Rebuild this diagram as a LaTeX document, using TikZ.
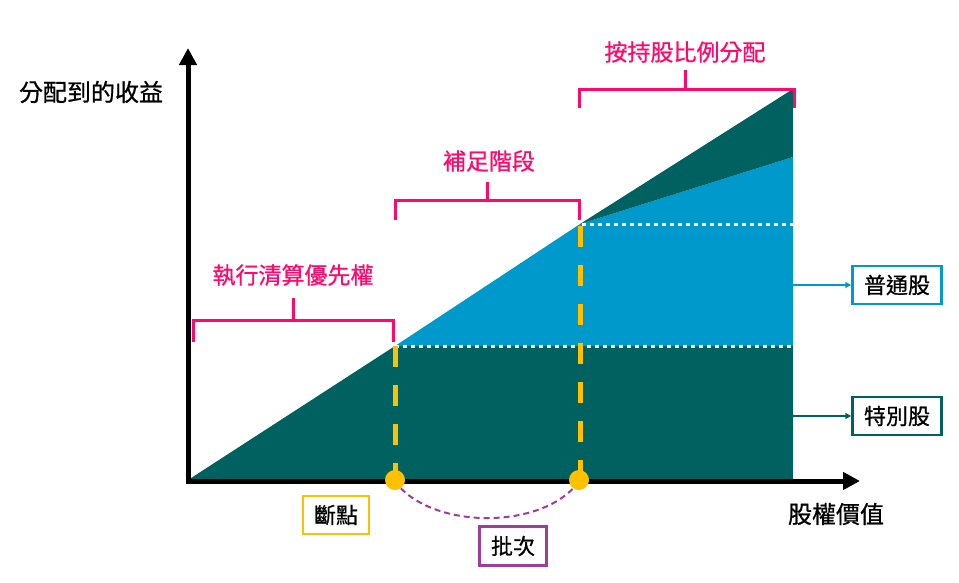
\documentclass[tikz,border=0pt]{standalone}
\usepackage{fontspec}
\setmainfont{Noto Sans CJK TC}[FakeBold=0.8]
\usetikzlibrary{arrows.meta}
\definecolor{dkgreen}{HTML}{006260}
\definecolor{cblue}{HTML}{0099CC}
\definecolor{cpink}{HTML}{FF0A6C}
\definecolor{cyellow}{HTML}{FFC000}
\definecolor{cpurple}{HTML}{A03C9E}
\begin{document}
\begin{tikzpicture}[x=1pt,y=-1pt,
  axis/.style={line width=5pt, line join=miter,
    {Triangle[length=17pt,width=17pt]}-{Triangle[length=17pt,width=17pt]}},
  brk/.style={draw=cpink, line width=3pt},
  brktext/.style={text=cpink, font=\fontsize{23}{26}\selectfont, inner sep=0pt},
  axtext/.style={text=black, font=\fontsize{24}{28}\selectfont, inner sep=0pt},
  lbl/.style={draw, line width=2.5pt, fill=white, minimum width=89pt, minimum height=38pt,
    inner sep=0pt, font=\fontsize{22}{26}\selectfont},
  wdot/.style={draw=white, line width=3pt, dash pattern=on 4pt off 4pt},
  ydash/.style={draw=cyellow, line width=5pt, dash pattern=on 21pt off 18pt},
  bpt/.style={circle, fill=cyellow, minimum size=20pt, inner sep=0pt},
  larrow/.style={line width=1.6pt, -{Triangle[length=6pt,width=6pt]}},
  arcst/.style={draw=cpurple, line width=2pt, dash pattern=on 6pt off 4pt}
]
\useasboundingbox (0,0) rectangle (959,582);
% areas
\fill[dkgreen] (188,480) -- (395,346) -- (793,346) -- (793,480) -- cycle;
\fill[cblue] (395,346) -- (580,224) -- (793,157) -- (793,346) -- cycle;
\fill[dkgreen] (580,224) -- (793,89) -- (793,157) -- cycle;
% dotted white lines
\draw[wdot] (395,346) -- (793,346);
\draw[wdot] (582,224) -- (793,224);
% yellow dashed lines
\draw[ydash] (395,346) -- (395,480);
\draw[ydash] (580,226) -- (580,480);
% axes
\coordinate (O) at (188,481);
\coordinate (ytip) at (188,48);
\coordinate (xtip) at (860,481);
\draw[axis] (ytip) -- (O) -- (xtip);
% breakpoints
\node[bpt] (bp1) at (395,480) {};
\node[bpt] (bp2) at (579,480) {};
\draw[arcst] (bp1.-55) .. controls (440,528) and (535,528) .. (bp2.-125);
% brackets
\draw[brk] (193,342) -- (193,320) -- (393,320) -- (393,342);
\draw[brk] (293,320) -- (293,298);
\node[brktext] (t1) at (293,275) {執行清算優先權};
\draw[brk] (395,220) -- (395,200) -- (579,200) -- (579,220);
\draw[brk] (487,200) -- (487,182);
\node[brktext] (t2) at (489,161) {補足階段};
\draw[brk] (579,108) -- (579,89) -- (794,89) -- (794,108);
\draw[brk] (685,89) -- (685,70);
\node[brktext] (t3) at (685,52) {按持股比例分配};
% axis labels
\node[axtext] (ylab) at (91,92) {分配到的收益};
\node[axtext] (xlab) at (836,514) {股權價值};
% legend boxes
\node[lbl, draw=cblue] (pt) at (897,285) {普通股};
\node[lbl, draw=dkgreen] (sp) at (897,416) {特別股};
\coordinate (pe) at (793,285);
\coordinate (se) at (793,416);
\draw[larrow, cblue] (pe) -- (pt.west);
\draw[larrow, dkgreen] (se) -- (sp.west);
% bottom labels
\node[lbl, draw=cyellow, minimum width=66pt] (dd) at (336,515) {斷點};
\node[lbl, draw=cpurple, minimum width=67pt, minimum height=39pt] (pc) at (513,546) {批次};
\end{tikzpicture}
\end{document}
